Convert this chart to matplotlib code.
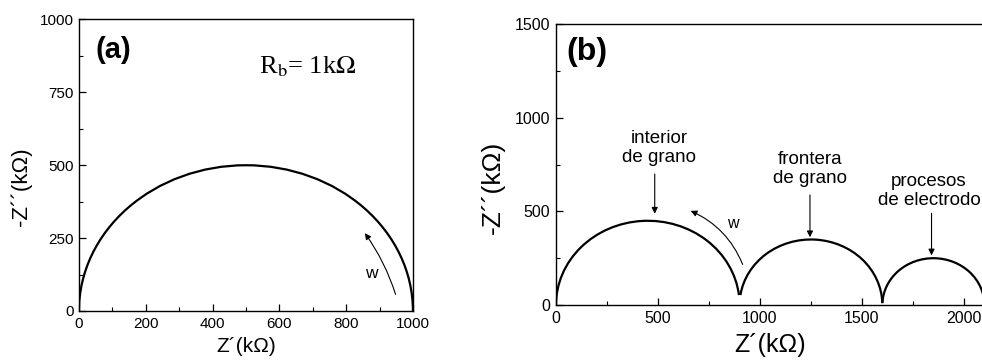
import numpy as np
import matplotlib
matplotlib.use("Agg")
import matplotlib.pyplot as plt
from matplotlib.patches import Arc
from matplotlib.ticker import MultipleLocator

plt.rcParams['font.family'] = ['Liberation Sans', 'DejaVu Sans']
plt.rcParams['mathtext.fontset'] = 'stix'

# ────────────────────────────────
# Data
# ────────────────────────────────
# panel (a): one semicircle, R_b = 1 kOhm
a_center = 500
a_radius = 500

# panel (b): three arcs (grain interior, grain boundary, electrode)
b_centers = [450, 1250, 1850]
b_radii = [450, 350, 250]
b_cusps = [53, 10]          # height of the cusp where two arcs meet

b_labels = ["interior\nde grano", "frontera\nde grano", "procesos\nde electrodo"]
b_label_x = [505, 1245, 1828]
b_label_y = [840, 725, 610]
b_arrow_x = [484, 1245, 1841]
b_arrow_top = [700, 588, 490]
b_arrow_tip = [488, 362, 265]


def style_axes(ax, size):
    for s in ax.spines.values():
        s.set_linewidth(1.0)
    ax.tick_params(which="both", direction="in", top=False, right=False, labelsize=size, pad=4)
    ax.tick_params(which="major", length=5, width=0.9)
    ax.tick_params(which="minor", length=3, width=0.8)


fig = plt.figure(figsize=(9.82, 3.63), dpi=100)

# ────────────────────────────────
# Panel (a)
# ────────────────────────────────
ax1 = fig.add_axes([0.0804, 0.1433, 0.3401, 0.8030])
ax1.set_xlim(0, 1000)
ax1.set_ylim(0, 1000)
ax1.add_patch(Arc((a_center, 0), 2 * a_radius, 2 * a_radius,
                  theta1=0, theta2=180, lw=1.6, color="black"))
ax1.xaxis.set_major_locator(MultipleLocator(200))
ax1.xaxis.set_minor_locator(MultipleLocator(100))
ax1.yaxis.set_major_locator(MultipleLocator(250))
ax1.yaxis.set_minor_locator(MultipleLocator(125))
style_axes(ax1, 11)
ax1.set_xlabel("Z\u00b4(k\u03a9)", fontsize=15)
ax1.xaxis.set_label_coords(0.5, -0.09)
ax1.set_ylabel("-Z\u00b4\u00b4(k\u03a9)", fontsize=16)
ax1.yaxis.set_label_coords(-0.14, 0.425)
ax1.text(102, 896, "(a)", fontsize=21, fontweight="bold", ha="center", va="center")
ax1.text(539, 816, r"R$_{\rm b}$= 1k$\Omega$", fontsize=19,
         family="Liberation Serif", ha="left", va="baseline")
ax1.annotate("", xy=(856, 267), xytext=(948, 57),
             arrowprops=dict(arrowstyle="-|>", lw=0.8, color="black",
                             mutation_scale=9, shrinkA=0, shrinkB=0,
                             connectionstyle="arc3,rad=0.08"))
ax1.text(874, 130, "w", fontsize=12.5, ha="center", va="center")

# ────────────────────────────────
# Panel (b) — right side is cut by the figure edge
# ────────────────────────────────
ax2 = fig.add_axes([0.5662, 0.1598, 0.5193, 0.7733])
ax2.set_xlim(0, 2500)
ax2.set_ylim(0, 1500)

for i, (c, r) in enumerate(zip(b_centers, b_radii)):
    t_start = 0.0 if i == len(b_centers) - 1 else np.degrees(np.arcsin(b_cusps[i] / r))
    t_end = 180.0 if i == 0 else 180.0 - np.degrees(np.arcsin(b_cusps[i - 1] / r))
    ax2.add_patch(Arc((c, 0), 2 * r, 2 * r, theta1=t_start, theta2=t_end,
                      lw=1.6, color="black"))

for lbl, lx, ly, axx, top, tip in zip(b_labels, b_label_x, b_label_y,
                                      b_arrow_x, b_arrow_top, b_arrow_tip):
    ax2.text(lx, ly, lbl, fontsize=13.5, ha="center", va="center", linespacing=1.15)
    ax2.annotate("", xy=(axx, tip), xytext=(axx, top),
                 arrowprops=dict(arrowstyle="-|>", lw=0.8, color="black",
                                 mutation_scale=9, shrinkA=0, shrinkB=0))

ax2.annotate("", xy=(660, 503), xytext=(915, 217),
             arrowprops=dict(arrowstyle="-|>", lw=0.8, color="black",
                             mutation_scale=9, shrinkA=0, shrinkB=0,
                             connectionstyle="arc3,rad=0.2"))
ax2.text(869, 433, "w", fontsize=11.5, ha="center", va="center")
ax2.text(150, 1354, "(b)", fontsize=23, fontweight="bold", ha="center", va="center")

ax2.xaxis.set_major_locator(MultipleLocator(500))
ax2.xaxis.set_minor_locator(MultipleLocator(250))
ax2.yaxis.set_major_locator(MultipleLocator(500))
ax2.yaxis.set_minor_locator(MultipleLocator(250))
style_axes(ax2, 11.5)
ax2.spines["right"].set_visible(False)
ax2.set_xlabel("Z\u00b4(k\u03a9)", fontsize=18)
ax2.xaxis.set_label_coords(214 / 510, -0.10)
ax2.set_ylabel("-Z\u00b4\u00b4(k\u03a9)", fontsize=19)
ax2.yaxis.set_label_coords(-51 / 510, 0.42)

fig.savefig("out.png", dpi=100)
